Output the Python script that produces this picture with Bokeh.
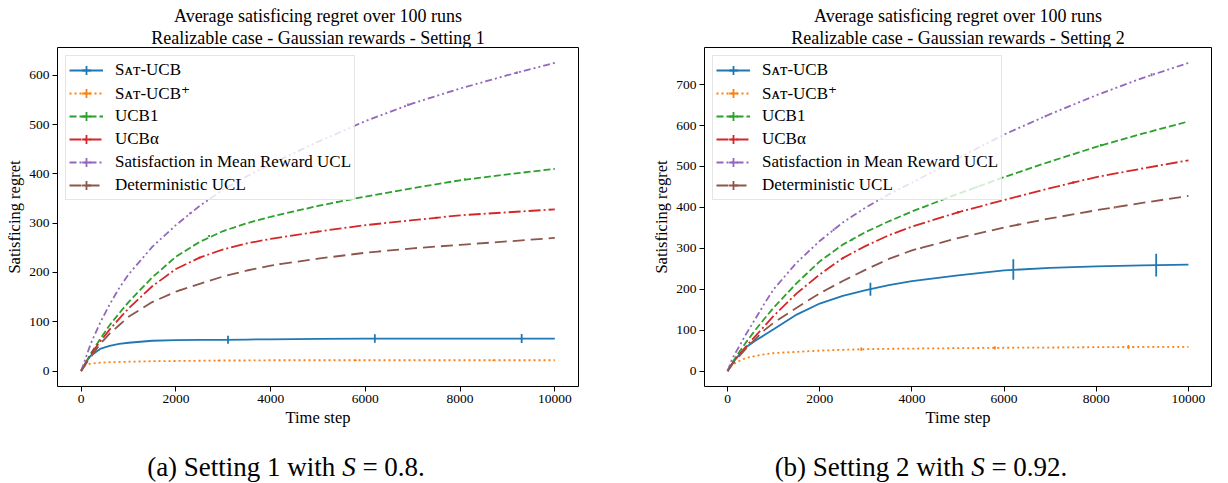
import numpy as np
from bokeh.plotting import figure
from bokeh.models import Range1d, FixedTicker, Legend, LegendItem, Title, Div
from bokeh.layouts import row, column
from bokeh.embed import file_html
from bokeh.resources import INLINE

# ---------------- data ----------------
time_steps = [0, 100, 200, 400, 600, 800, 1000, 1500, 2000, 2500, 3000, 3500,
              4000, 5000, 6000, 7000, 8000, 9000, 10000]

series_labels = ["S\u1d00\u1d1b-UCB", "S\u1d00\u1d1b-UCB\u207a", "UCB1", "UCB\u03b1",
                 "Satisfaction in Mean Reward UCL", "Deterministic UCL"]

x_ticks = [0, 2000, 4000, 6000, 8000, 10000]
y_ticks_1 = [0, 100, 200, 300, 400, 500, 600]
y_ticks_2 = [0, 100, 200, 300, 400, 500, 600, 700]

# Setting 1 (S = 0.8)
s1_sat_ucb = [2, 18, 31, 45, 51, 55, 57.5, 61.5, 63, 63.5, 63.5, 64, 64.5, 65.5, 66, 66, 66, 66, 66]
s1_sat_ucb_plus = [2, 13, 15, 17, 18, 18.5, 19, 20, 20.5, 21, 21.5, 21.5, 22, 22, 22, 22, 22, 22, 22]
s1_ucb1 = [0, 18, 35, 65, 93, 117, 140, 190, 232, 262, 284, 300, 313, 335, 354, 371, 387, 399, 410]
s1_ucb_alpha = [0, 17, 33, 60, 84, 106, 127, 172, 207, 230, 247, 259, 268, 283, 296, 306, 316, 322, 328]
s1_smr_ucl = [0, 28, 55, 98, 135, 168, 196, 252, 296, 335, 368, 395, 420, 465, 507, 543, 573, 600, 625]
s1_det_ucl = [0, 15, 28, 55, 76, 93, 110, 140, 161, 177, 192, 204, 214, 228, 240, 249, 256, 263, 270]

# Setting 2 (S = 0.92)
s2_sat_ucb = [0, 18, 33, 58, 74, 88, 102, 138, 165, 184, 198, 210, 220, 234, 246, 252, 256, 258.5, 260]
s2_sat_ucb_plus = [0, 15, 22, 32, 37, 41, 44, 47, 50, 52, 53.5, 54.5, 55, 56, 57, 57.5, 58.5, 59, 59]
s2_ucb1 = [0, 20, 38, 70, 100, 128, 155, 215, 268, 309, 340, 366, 390, 433, 474, 512, 548, 580, 610]
s2_ucb_alpha = [0, 18, 33, 60, 85, 110, 135, 190, 236, 276, 306, 332, 353, 388, 418, 447, 474, 495, 515]
s2_smr_ucl = [0, 30, 50, 90, 127, 165, 200, 265, 318, 363, 400, 432, 460, 520, 578, 628, 674, 716, 753]
s2_det_ucl = [0, 16, 30, 55, 78, 100, 118, 155, 190, 220, 248, 274, 295, 325, 351, 373, 393, 411, 428]

# error-bar positions (time steps) per algorithm
err_x_sat_ucb = [3100, 6200, 9300]
err_x_sat_ucb_plus = [2900, 5800, 8700]
err_x_ucb1 = [2700, 5400, 8100]
err_x_ucb_alpha = [2500, 5000, 7500]
err_x_smr_ucl = [2300, 4600, 6900, 9200]
err_x_det_ucl = [2100, 4200, 6300, 8400]

# error-bar centres and half-widths, setting 1
s1_err_y_sat_ucb = [63.5, 66, 66]
s1_err_sat_ucb = [8, 8.5, 9]
s1_err_y_sat_ucb_plus = [21.5, 22, 22]
s1_err_sat_ucb_plus = [1.5, 1.5, 1.5]
s1_err_y_ucb1 = [274, 343, 389]
s1_err_ucb1 = [2, 2, 2]
s1_err_y_ucb_alpha = [230, 283, 311]
s1_err_ucb_alpha = [2, 2, 2]
s1_err_y_smr_ucl = [320, 447, 540, 605]
s1_err_smr_ucl = [2, 2, 2.5, 2.5]
s1_err_y_det_ucl = [165, 217, 243, 259]
s1_err_det_ucl = [1.5, 1.5, 1.5, 1.5]

# error-bar centres and half-widths, setting 2
s2_err_y_sat_ucb = [200, 248, 259]
s2_err_sat_ucb = [16, 25, 28]
s2_err_y_sat_ucb_plus = [53.5, 56.5, 59]
s2_err_sat_ucb_plus = [4, 4, 5]
s2_err_y_ucb1 = [321, 450, 552]
s2_err_ucb1 = [2.5, 3, 3]
s2_err_y_ucb_alpha = [276, 388, 461]
s2_err_ucb_alpha = [2.5, 3, 3]
s2_err_y_smr_ucl = [345, 496, 623, 724]
s2_err_smr_ucl = [2.5, 3, 3, 3.5]
s2_err_y_det_ucl = [196, 301, 358, 400]
s2_err_det_ucl = [2, 2.5, 2.5, 3]

# ---------------- style ----------------
colors = ["#1f77b4", "#ff7f0e", "#2ca02c", "#d62728", "#9467bd", "#8c564b"]
dashes = ["solid", "2 3", "7 3", "12 3 2 3", "7 3 2 3 2 3", "12 6"]
SERIF = "Liberation Serif, DejaVu Serif, serif"
LW = 1.8

err_xs = [err_x_sat_ucb, err_x_sat_ucb_plus, err_x_ucb1, err_x_ucb_alpha, err_x_smr_ucl, err_x_det_ucl]


def make_fig(curves, err_ys, err_es, y_ticks, line1, line2, left, fw, right):
    ymax = max(max(c) for c in curves)
    pad = 0.05 * ymax
    p = figure(frame_width=fw, frame_height=339,
               min_border_left=left, min_border_right=right,
               min_border_top=47, min_border_bottom=54,
               x_range=Range1d(-500, 10500), y_range=Range1d(-pad, ymax + pad),
               toolbar_location=None, output_backend="svg", title=None)
    p.add_layout(Title(text=line2, align="center", text_font=SERIF, text_font_size="18px",
                       text_font_style="normal", text_color="black", standoff=0), "above")
    p.add_layout(Title(text=line1, align="center", text_font=SERIF, text_font_size="18px",
                       text_font_style="normal", text_color="black", standoff=0), "above")
    p.xgrid.visible = False
    p.ygrid.visible = False
    p.outline_line_color = "black"
    p.outline_line_alpha = 1
    p.outline_line_width = 1
    p.xaxis.ticker = FixedTicker(ticks=x_ticks)
    p.yaxis.ticker = FixedTicker(ticks=y_ticks)
    p.xaxis.axis_label = "Time step"
    p.yaxis.axis_label = "Satisficing regret"
    for ax in (p.xaxis[0], p.yaxis[0]):
        ax.axis_line_color = None
        ax.major_tick_in = 0
        ax.major_tick_out = 5
        ax.minor_tick_in = 0
        ax.minor_tick_out = 0
        ax.major_tick_line_color = "black"
        ax.major_label_text_font = SERIF
        ax.major_label_text_font_size = "13.5px"
        ax.major_label_text_color = "black"
        ax.major_label_standoff = 3
        ax.axis_label_text_font = SERIF
        ax.axis_label_text_font_size = "16.5px"
        ax.axis_label_text_font_style = "normal"
        ax.axis_label_text_color = "black"
        ax.axis_label_standoff = 2

    items = []
    for i, vals in enumerate(curves):
        r = p.line(time_steps, vals, line_color=colors[i], line_width=LW, line_dash=dashes[i])
        ex = err_xs[i]
        ey = err_ys[i]
        ee = err_es[i]
        p.segment(x0=ex, y0=[y - e for y, e in zip(ey, ee)],
                  x1=ex, y1=[y + e for y, e in zip(ey, ee)],
                  line_color=colors[i], line_width=LW)
        c = p.scatter(ex, ey, marker="cross", size=0, line_color=colors[i], line_width=LW)
        items.append(LegendItem(label=series_labels[i], renderers=[r, c]))

    legend = Legend(items=items, location="top_left", margin=8, padding=3, spacing=1,
                    glyph_width=34, glyph_height=22, label_height=22, label_standoff=12,
                    label_text_font=SERIF, label_text_font_size="17px",
                    label_text_color="black",
                    border_line_color="#cccccc", border_line_width=1,
                    background_fill_alpha=0.8)
    p.add_layout(legend)
    return p


p1 = make_fig([s1_sat_ucb, s1_sat_ucb_plus, s1_ucb1, s1_ucb_alpha, s1_smr_ucl, s1_det_ucl],
              [s1_err_y_sat_ucb, s1_err_y_sat_ucb_plus, s1_err_y_ucb1, s1_err_y_ucb_alpha,
               s1_err_y_smr_ucl, s1_err_y_det_ucl],
              [s1_err_sat_ucb, s1_err_sat_ucb_plus, s1_err_ucb1, s1_err_ucb_alpha,
               s1_err_smr_ucl, s1_err_det_ucl],
              y_ticks_1, "Average satisficing regret over 100 runs",
              "Realizable case - Gaussian rewards - Setting 1", 57, 521, 36)

p2 = make_fig([s2_sat_ucb, s2_sat_ucb_plus, s2_ucb1, s2_ucb_alpha, s2_smr_ucl, s2_det_ucl],
              [s2_err_y_sat_ucb, s2_err_y_sat_ucb_plus, s2_err_y_ucb1, s2_err_y_ucb_alpha,
               s2_err_y_smr_ucl, s2_err_y_det_ucl],
              [s2_err_sat_ucb, s2_err_sat_ucb_plus, s2_err_ucb1, s2_err_ucb_alpha,
               s2_err_smr_ucl, s2_err_det_ucl],
              y_ticks_2, "Average satisficing regret over 100 runs",
              "Realizable case - Gaussian rewards - Setting 2", 90, 507, 17)

cap_css = {"font-family": "'Liberation Serif', 'DejaVu Serif', serif", "font-size": "27px",
           "line-height": "30px", "color": "black", "text-align": "center"}
d1 = Div(text='(a) Setting 1 with <i>S</i> = 0.8.', width=572, height=31,
         styles=cap_css, margin=(12, 42, 0, 0))
d2 = Div(text='(b) Setting 2 with <i>S</i> = 0.92.', width=614, height=31,
         styles=cap_css, margin=(12, 0, 0, 0))

layout = row(column(p1, d1, spacing=0), column(p2, d2, spacing=0), spacing=0)

with open("out.html", "w") as f:
    f.write(file_html(layout, INLINE))
